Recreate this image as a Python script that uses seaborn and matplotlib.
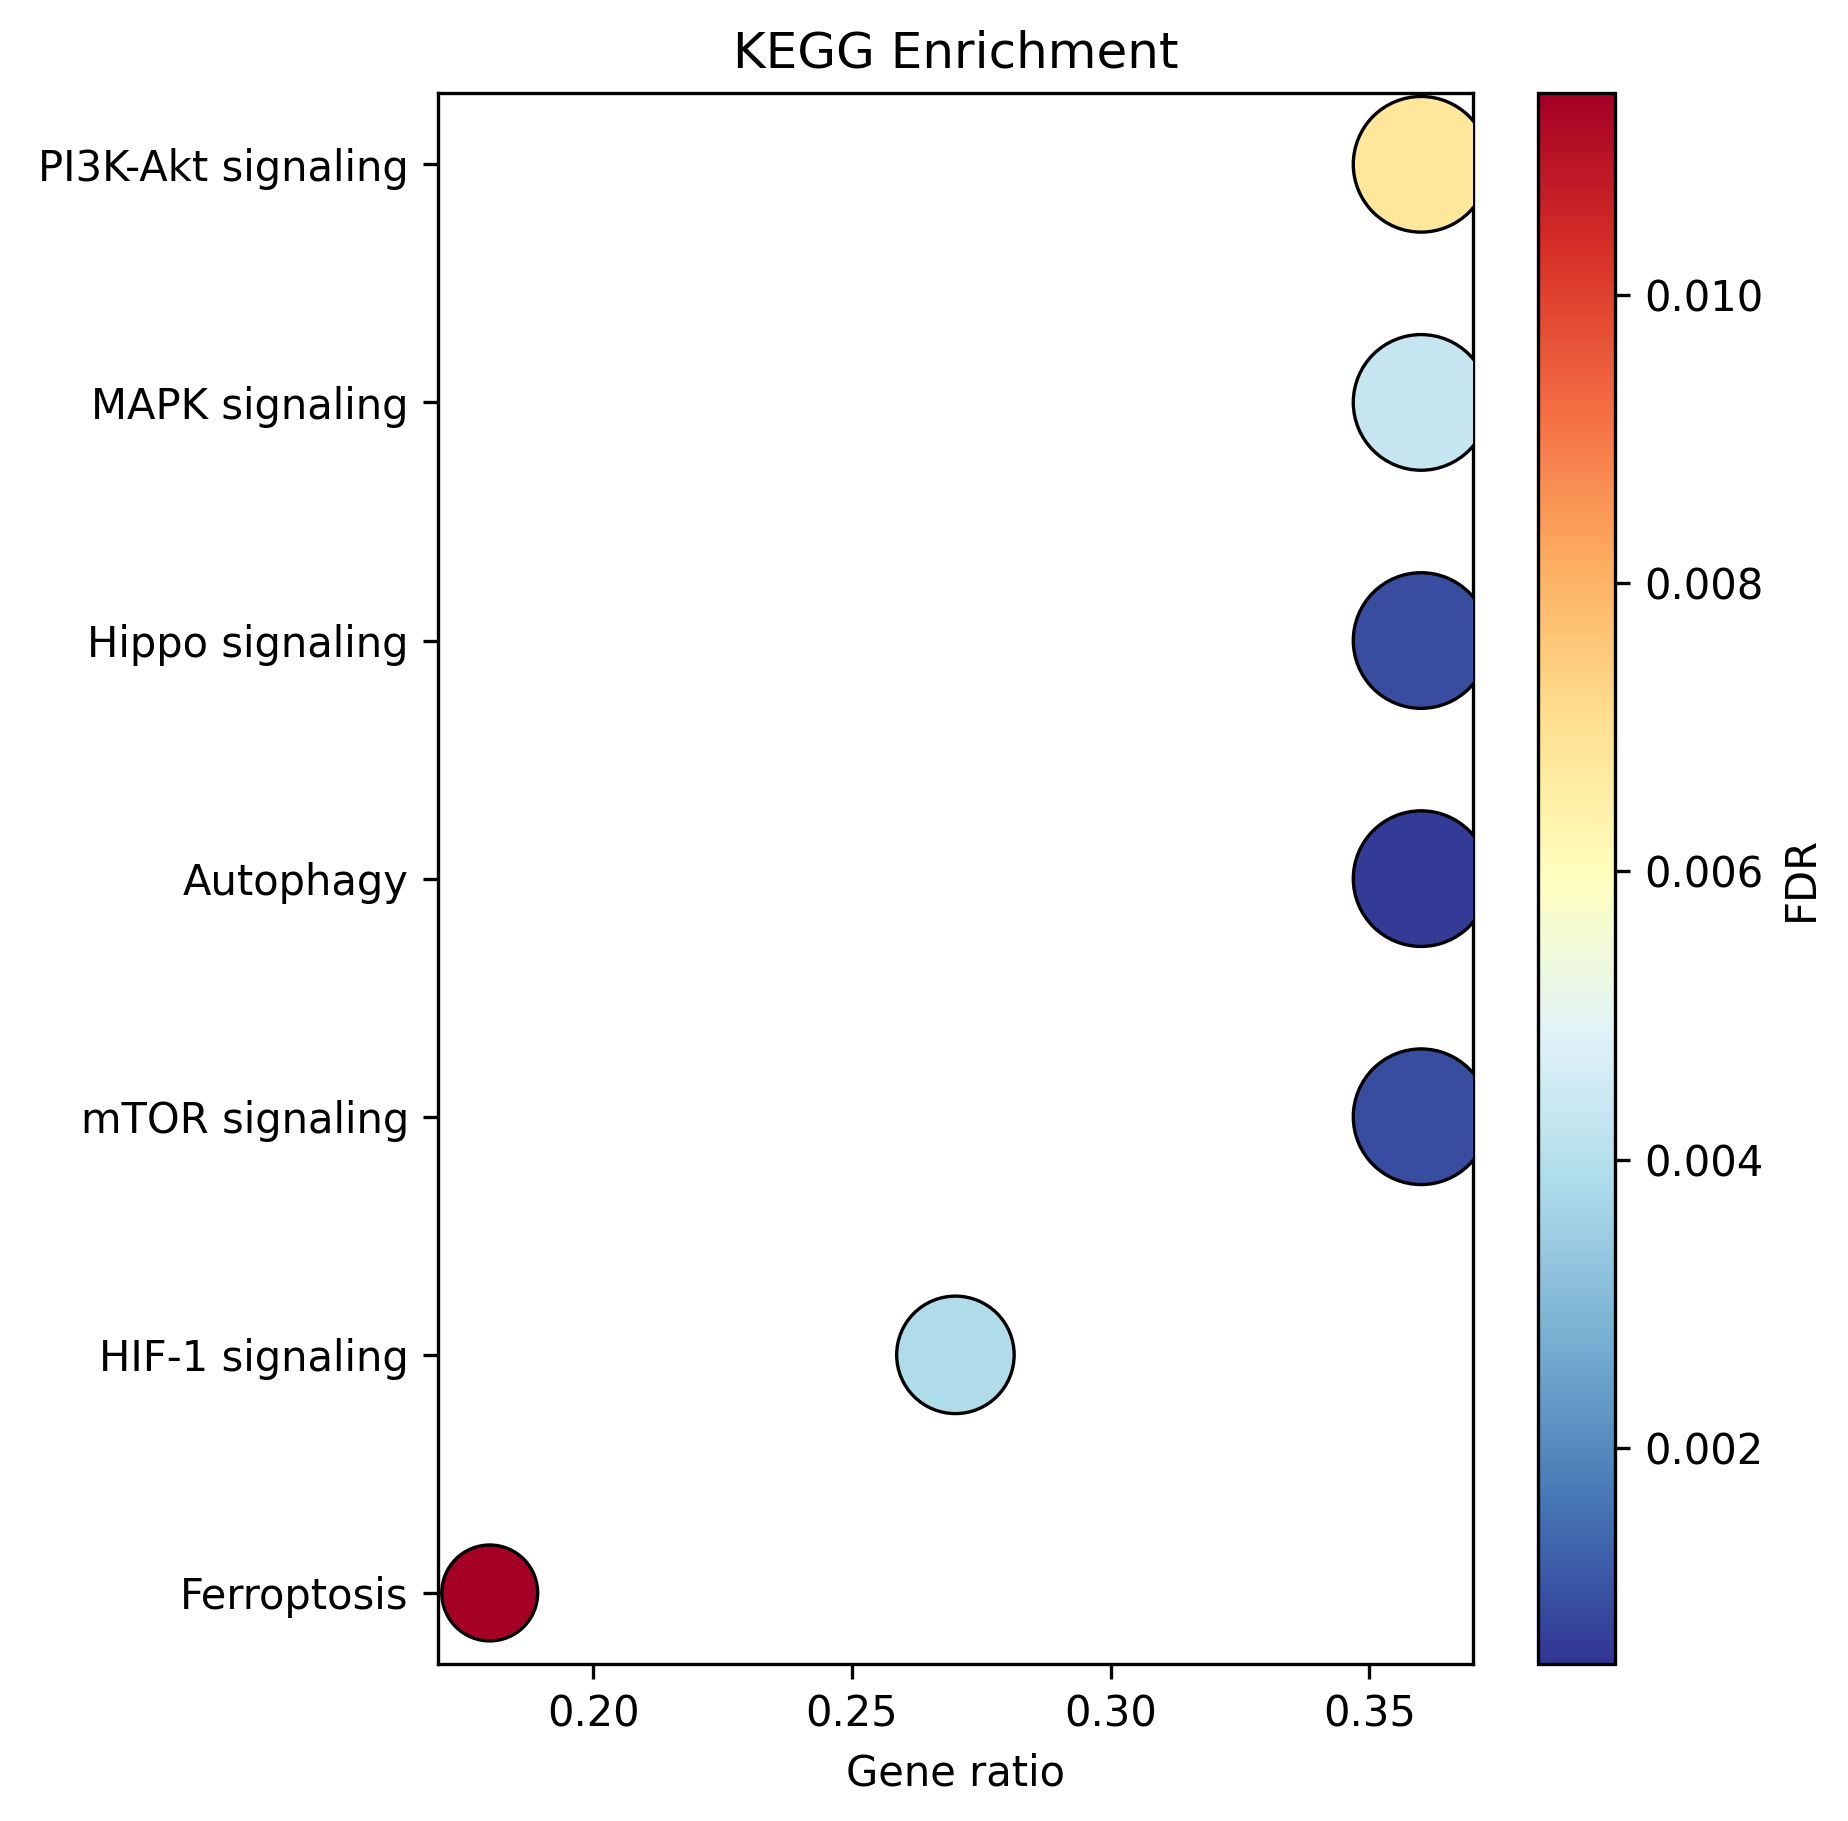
import numpy as np
import pandas as pd
import matplotlib
matplotlib.use("Agg")
import matplotlib.pyplot as plt
import seaborn as sns

pathways = ["PI3K-Akt signaling", "MAPK signaling", "Hippo signaling", "Autophagy",
            "mTOR signaling", "HIF-1 signaling", "Ferroptosis"]
gene_ratio = [0.36, 0.36, 0.36, 0.36, 0.36, 0.27, 0.18]
fdr = [0.0068, 0.0043, 0.0009, 0.0006, 0.0009, 0.0039, 0.0114]
counts = [4, 4, 4, 4, 4, 3, 2]

df = pd.DataFrame({"Pathway": pathways, "GeneRatio": gene_ratio, "FDR": fdr, "Count": counts})
df["y"] = np.arange(len(df))[::-1]

vmin, vmax = 0.0005, 0.0114
norm = plt.Normalize(vmin, vmax)

fig = plt.figure(figsize=(6.16, 6.07), dpi=300)
ax = fig.add_axes([0.237, 0.086, 0.56, 0.863])
cax = fig.add_axes([0.832, 0.086, 0.042, 0.863])

sns.scatterplot(data=df, x="GeneRatio", y="y", hue="FDR", hue_norm=norm, palette="RdYlBu_r",
                size="Count", sizes=(530, 1060), size_norm=(2, 4),
                edgecolor="black", linewidth=0.8, legend=False, ax=ax, zorder=3)

ax.set_xlim(0.17, 0.37)
ax.set_ylim(-0.3, 6.3)
ax.set_yticks(df["y"])
ax.set_yticklabels(df["Pathway"])
ax.set_xticks([0.20, 0.25, 0.30, 0.35])
ax.set_xlabel("Gene ratio")
ax.set_ylabel("")
ax.set_title("KEGG Enrichment")

sm = plt.cm.ScalarMappable(cmap="RdYlBu_r", norm=norm)
cb = fig.colorbar(sm, cax=cax)
cb.set_label("FDR")
cb.set_ticks([0.002, 0.004, 0.006, 0.008, 0.010])

fig.savefig("out.png", dpi=300)
